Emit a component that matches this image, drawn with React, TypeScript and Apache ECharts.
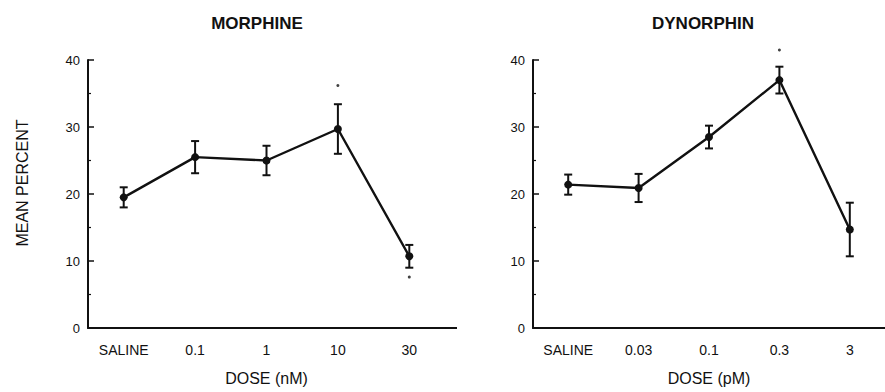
import React, { useEffect, useRef } from "react";
import * as echarts from "echarts";

const morphineCats = ["SALINE", "0.1", "1", "10", "30"];
const morphineMean = [19.5, 25.5, 25.0, 29.7, 10.7];
const morphineErr = [1.5, 2.4, 2.2, 3.7, 1.7];
const morphineSig: (number | null)[] = [null, null, null, 36.2, 7.6];

const dynCats = ["SALINE", "0.03", "0.1", "0.3", "3"];
const dynMean = [21.4, 20.9, 28.5, 37.0, 14.7];
const dynErr = [1.5, 2.1, 1.7, 2.0, 4.0];
const dynSig: (number | null)[] = [null, null, null, 41.5, null];

const yTicks = { min: 0, max: 40, interval: 10 };
const FONT = '"Liberation Sans", Arial, Helvetica, sans-serif';
const INK = "#111111";

function errorSeries(idx: number, mean: number[], err: number[]) {
  return {
    type: "custom",
    xAxisIndex: idx,
    yAxisIndex: idx,
    z: 3,
    renderItem: (_p: any, api: any) => {
      const x = api.value(0);
      const lo = api.coord([x, api.value(1)]);
      const hi = api.coord([x, api.value(2)]);
      const w = 4;
      const st = { stroke: INK, lineWidth: 2 };
      return {
        type: "group",
        children: [
          { type: "line", shape: { x1: hi[0], y1: hi[1], x2: lo[0], y2: lo[1] }, style: st },
          { type: "line", shape: { x1: hi[0] - w, y1: hi[1], x2: hi[0] + w, y2: hi[1] }, style: st },
          { type: "line", shape: { x1: lo[0] - w, y1: lo[1], x2: lo[0] + w, y2: lo[1] }, style: st },
        ],
      };
    },
    encode: { x: 0, y: [1, 2] },
    data: mean.map((m, i) => [i, m - err[i], m + err[i]]),
  };
}

function lineSeries(idx: number, mean: number[]) {
  return {
    type: "line",
    xAxisIndex: idx,
    yAxisIndex: idx,
    data: mean,
    symbol: "circle",
    symbolSize: 8,
    z: 4,
    lineStyle: { color: INK, width: 2.4 },
    itemStyle: { color: INK },
  };
}

function sigSeries(idx: number, sig: (number | null)[]) {
  return {
    type: "scatter",
    xAxisIndex: idx,
    yAxisIndex: idx,
    clip: false,
    symbol: "circle",
    symbolSize: 3,
    itemStyle: { color: INK },
    data: sig.map((v) => (v == null ? "-" : v)),
  };
}

function xAxis(idx: number, cats: string[], name: string) {
  return {
    type: "category",
    gridIndex: idx,
    data: cats,
    boundaryGap: true,
    name,
    nameLocation: "middle",
    nameGap: 42,
    nameTextStyle: { fontFamily: FONT, fontSize: 16, color: INK },
    axisLine: { lineStyle: { color: INK, width: 2 } },
    axisTick: { alignWithLabel: true, length: 6, lineStyle: { color: INK, width: 1.5 } },
    axisLabel: { fontFamily: FONT, fontSize: 14, color: INK, margin: 15 },
    splitLine: { show: false },
  };
}

function yAxis(idx: number) {
  return {
    type: "value",
    gridIndex: idx,
    ...yTicks,
    axisLine: { show: true, lineStyle: { color: INK, width: 2 } },
    axisTick: { show: true, inside: true, length: 6, lineStyle: { color: INK, width: 1.5 } },
    minorTick: { show: true, splitNumber: 2, length: 3, lineStyle: { color: INK, width: 1.2 } },
    axisLabel: { fontFamily: FONT, fontSize: 13, color: INK, margin: 8 },
    splitLine: { show: false },
  };
}

export default function App() {
  const ref = useRef<HTMLDivElement>(null);
  useEffect(() => {
    document.body.style.margin = "0";
    const chart = echarts.init(ref.current!, null, { renderer: "svg" });
    chart.setOption({
      animation: false,
      backgroundColor: "#ffffff",
      grid: [
        { left: 88, top: 60, width: 357, height: 268 },
        { left: 533, top: 60, width: 358, height: 268 },
      ],
      xAxis: [xAxis(0, morphineCats, "DOSE (nM)"), xAxis(1, dynCats, "DOSE (pM)")],
      yAxis: [yAxis(0), yAxis(1)],
      graphic: [
        {
          type: "text",
          x: 257,
          y: 23,
          style: { text: "MORPHINE", font: `bold 17px ${FONT}`, fill: INK, align: "center", verticalAlign: "middle" },
        },
        {
          type: "text",
          x: 703,
          y: 23,
          style: { text: "DYNORPHIN", font: `bold 17px ${FONT}`, fill: INK, align: "center", verticalAlign: "middle" },
        },
        {
          type: "text",
          x: 22,
          y: 183,
          rotation: Math.PI / 2,
          style: { text: "MEAN PERCENT", font: `16px ${FONT}`, fill: INK, align: "center", verticalAlign: "middle" },
        },
        {
          type: "line",
          shape: { x1: 445, y1: 328, x2: 457, y2: 328 },
          style: { stroke: INK, lineWidth: 2 },
        },
      ],
      series: [
        errorSeries(0, morphineMean, morphineErr),
        lineSeries(0, morphineMean),
        sigSeries(0, morphineSig),
        errorSeries(1, dynMean, dynErr),
        lineSeries(1, dynMean),
        sigSeries(1, dynSig),
      ],
    });
    return () => chart.dispose();
  }, []);
  return <div ref={ref} style={{ width: 885, height: 392 }} />;
}
